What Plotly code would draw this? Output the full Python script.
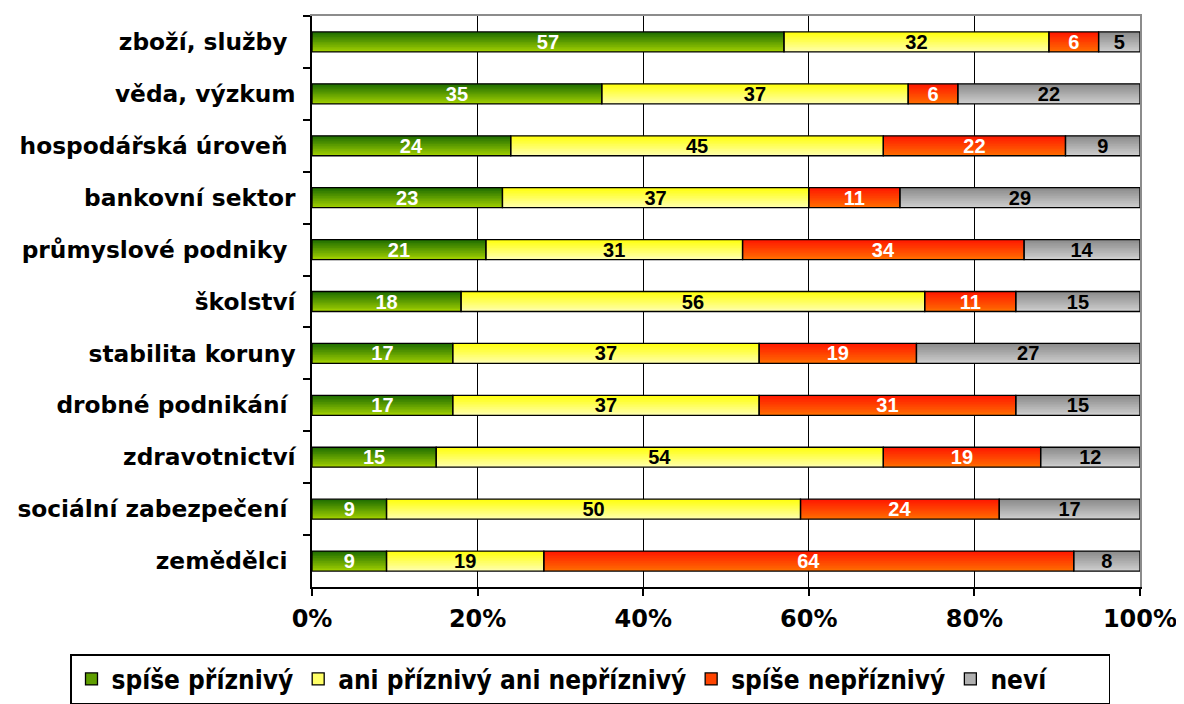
import plotly.graph_objects as go

categories = [
    "zboží, služby\u00a0",
    "věda, výzkum",
    "hospodářská úroveň\u00a0",
    "bankovní sektor",
    "průmyslové podniky\u00a0",
    "školství",
    "stabilita koruny",
    "drobné podnikání\u00a0",
    "zdravotnictví",
    "sociální zabezpečení\u00a0",
    "zemědělci\u00a0",
]
spise_priznivy = [57, 35, 24, 23, 21, 18, 17, 17, 15, 9, 9]
ani_ani = [32, 37, 45, 37, 31, 56, 37, 37, 54, 50, 19]
spise_nepriznivy = [6, 6, 22, 11, 34, 11, 19, 31, 19, 24, 64]
nevi = [5, 22, 9, 29, 14, 15, 27, 15, 12, 17, 8]

series_names = ["spíše příznivý", "ani příznivý ani nepříznivý", "spíše nepříznivý", "neví"]
series_values = [spise_priznivy, ani_ani, spise_nepriznivy, nevi]

# gradient (top -> bottom) colours of each series, and a mid colour for the legend
grad_top = [(0x22, 0x70, 0x00), (0xff, 0xff, 0x10), (0xff, 0x1a, 0x00), (0x8c, 0x8c, 0x8c)]
grad_bot = [(0x9c, 0xcc, 0x00), (0xff, 0xff, 0xa8), (0xff, 0x6a, 0x00), (0xcc, 0xcc, 0xcc)]
legend_colors = ["#5f9e00", "#ffff66", "#ff4400", "#b0b0b0"]
text_colors = ["white", "black", "white", "black"]

x_ticks = [0, 20, 40, 60, 80, 100]
x_ticklabels = ["0%", "20%", "40%", "60%", "80%", "100%"]

BAR_W = 0.385
N_SLICES = 12

fig = go.Figure()

# cumulative bases from the data
bases = []
running = [0] * len(categories)
for vals in series_values:
    bases.append(list(running))
    running = [r + v for r, v in zip(running, vals)]

step = BAR_W / N_SLICES
for si, vals in enumerate(series_values):
    top, bot = grad_top[si], grad_bot[si]
    for k in range(N_SLICES):
        t = k / (N_SLICES - 1)
        c = tuple(round(top[j] + (bot[j] - top[j]) * t) for j in range(3))
        w = step * 1.6 if k < N_SLICES - 1 else step
        fig.add_trace(go.Bar(
            y=categories, x=vals, base=bases[si], orientation="h",
            offset=-BAR_W / 2 + k * step, width=w,
            marker=dict(color="rgb(%d,%d,%d)" % c, line=dict(width=0)),
            showlegend=False, hoverinfo="skip",
        ))

# outlines + value labels
for si, vals in enumerate(series_values):
    fig.add_trace(go.Bar(
        y=categories, x=vals, base=bases[si], orientation="h",
        offset=-BAR_W / 2, width=BAR_W,
        marker=dict(color="rgba(0,0,0,0)", line=dict(color="black", width=1.3)),
        text=[str(v) for v in vals], textposition="inside", textangle=0,
        insidetextanchor="middle", constraintext="none",
        textfont=dict(family="Liberation Sans", size=20, color=text_colors[si], weight="bold"),
        showlegend=False, name=series_names[si], hoverinfo="skip",
    ))

# legend-only entries
for name, col in zip(series_names, legend_colors):
    label = name + ("\u00a0" * 7 if name == "neví" else "")
    fig.add_trace(go.Bar(
        x=[None], y=[None], orientation="h", name=label,
        marker=dict(color=col, line=dict(color="black", width=1.3)),
        showlegend=True, hoverinfo="skip",
    ))

W, H = 1176, 696
ML, MR, MT, MB = 304, 44, 8, 117
PW, PH = W - ML - MR, H - MT - MB
fig.update_layout(
    width=W, height=H,
    barmode="overlay",
    plot_bgcolor="white", paper_bgcolor="white",
    margin=dict(l=ML, r=MR, t=MT, b=MB, autoexpand=False),
    uniformtext=dict(mode=False),
    showlegend=True,
    legend=dict(
        orientation="h",
        xref="paper", yref="paper",
        x=(62 - ML) / PW, xanchor="left",
        y=-(646 - (H - MB)) / PH, yanchor="top",
        bordercolor="black", borderwidth=1.5, bgcolor="white",
        font=dict(family="DejaVu Sans Condensed", size=26, color="black", weight="bold"),
        traceorder="normal",
        itemwidth=30,
    ),
)
fig.update_xaxes(
    range=[0, 100], tickvals=x_ticks, ticktext=x_ticklabels,
    showgrid=True, gridcolor="black", gridwidth=1.3,
    showline=True, linecolor="black", linewidth=1.5,
    ticks="outside", ticklen=7, tickcolor="black", tickwidth=1.5,
    ticklabelstandoff=2,
    tickfont=dict(family="DejaVu Sans", size=24, color="black", weight="bold"),
    zeroline=False, mirror=False,
)
fig.update_yaxes(
    type="category",
    categoryorder="array", categoryarray=categories,
    autorange="reversed",
    showline=True, linecolor="black", linewidth=1.5,
    ticks="outside", ticklen=7, tickcolor="black", tickwidth=1.5,
    tickson="boundaries", ticklabelstandoff=10,
    tickfont=dict(family="DejaVu Sans", size=23.3, color="black", weight="bold"),
    showgrid=False, zeroline=False,
)
# gray frame on top and right (plot-area outline)
fig.update_layout(
    xaxis2=dict(overlaying="x", side="top", range=[0, 100], showline=True,
                linecolor="#8c8c8c", linewidth=1.5, showticklabels=False,
                showgrid=False, ticks="", zeroline=False),
    yaxis2=dict(overlaying="y", side="right", showline=True,
                linecolor="#8c8c8c", linewidth=1.5, showticklabels=False,
                showgrid=False, ticks="", zeroline=False, range=[0, 1]),
)
fig.add_trace(go.Scatter(x=[None], y=[None], xaxis="x2", yaxis="y2",
                         showlegend=False, hoverinfo="skip"))

fig.write_html("out.html")
